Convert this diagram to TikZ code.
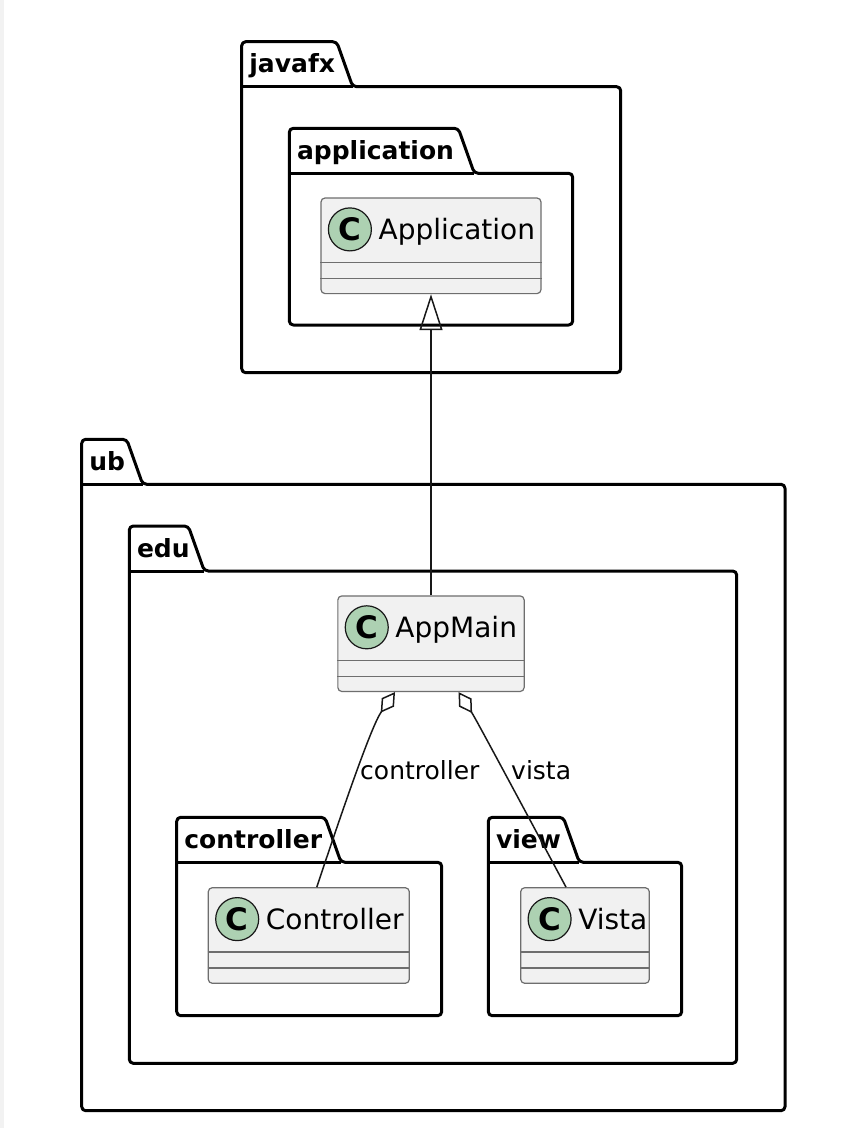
\documentclass[tikz,border=0pt]{standalone}
\usepackage{fontspec}
\setmainfont{DejaVu Sans}
\usepackage{tikz}
\usetikzlibrary{arrows.meta,positioning}
\definecolor{clsfill}{HTML}{F1F1F1}
\definecolor{clsline}{HTML}{6E6E6E}
\definecolor{spotfill}{HTML}{ADD1B2}
\definecolor{ink}{HTML}{181818}
\definecolor{strip}{HTML}{F2F2F2}
\tikzstyle{pkgbox}=[draw=black, line width=3pt, fill=white,
    rounded corners=4pt, line join=round]
\tikzstyle{pkgtitle}=[inner sep=0pt, anchor=base west,
    font=\fontsize{25}{30}\selectfont\bfseries]
\tikzstyle{cls}=[rectangle, draw=clsline, line width=1.2pt, fill=clsfill,
    rounded corners=4pt, minimum height=95.6pt, inner sep=0pt]
\tikzstyle{spot}=[circle, draw=ink, line width=1.2pt, fill=spotfill,
    minimum size=43pt, inner sep=0pt, font=\fontsize{31}{34}\selectfont\bfseries]
\tikzstyle{clsname}=[inner sep=0pt, anchor=base west,
    font=\fontsize{28}{32}\selectfont]
\tikzstyle{sep}=[draw=clsline, line width=1.2pt]
\tikzstyle{lbl}=[inner sep=0pt, anchor=base west,
    font=\fontsize{25}{30}\selectfont]

% package: name, left, tab top, tab right, right, bottom, title
\newcommand{\umlpkg}[7]{
  \pgfmathsetmacro{\pkgbody}{#3+45}
  \pgfmathsetmacro{\pkgslant}{#4+16}
  \draw[pkgbox] (#2,#6) -- (#2,#3) -- (#4,#3) -- (\pkgslant,\pkgbody)
    -- (#5,\pkgbody) -- (#5,#6) -- cycle;
  \draw[line width=3pt] (#2,\pkgbody) -- (\pkgslant,\pkgbody);
  \node[pkgtitle] (#1) at ({#2+7.5},{#3+31}) {#7};
}
% class: name, x, y, width, text
\newcommand{\umlclass}[5]{
  \node[cls, minimum width=#4pt] (#1) at (#2,#3) {};
  \node[spot] (#1-spot) at ([xshift=29.5pt,yshift=-32pt]#1.north west) {C};
  \node[clsname] (#1-name) at ([xshift=58pt,yshift=-42.5pt]#1.north west) {#5};
  \draw[sep] ([yshift=32pt]#1.south west) -- ([yshift=32pt]#1.south east);
  \draw[sep] ([yshift=16pt]#1.south west) -- ([yshift=16pt]#1.south east);
}

\begin{document}
\begin{tikzpicture}
  [x=1pt, y=-1pt,
  extends/.style={draw=ink, line width=1.5pt,
    -{Triangle[open, length=36pt, width=23pt]}},
  aggr/.style={draw=ink, line width=1.5pt,
    {Diamond[open, length=25pt, width=15pt]}-}]

  \useasboundingbox (0,0) rectangle (846,1128);
  \fill[strip] (0,0) rectangle (3.5,1128);

  \umlpkg{pkg-ub}{81.7}{439.3}{126.7}{785}{1110.7}{ub}
  \umlpkg{pkg-edu}{129.3}{526}{188.3}{736.7}{1063.3}{edu}
  \umlpkg{pkg-controller}{176.7}{817.3}{325}{441.7}{1015.7}{controller}
  \umlpkg{pkg-view}{488.3}{817.3}{563.3}{681.7}{1015.7}{view}
  \umlpkg{pkg-javafx}{241.7}{41.7}{336.7}{620.7}{372.7}{javafx}
  \umlpkg{pkg-application}{289.3}{128.3}{458.3}{572.7}{325}{application}

  \umlclass{app}{431}{245.8}{220}{Application}
  \umlclass{appmain}{431}{643.7}{186.3}{AppMain}
  \umlclass{ctrl}{308.8}{935.5}{201}{Controller}
  \umlclass{vista}{585}{935.5}{128.6}{Vista}

  \draw[extends] (appmain.north) -- (app.south);
  \draw[aggr] ([xshift=-36pt]appmain.south) .. controls (377,718) and (365.7,740)
    .. ([xshift=8pt]ctrl.north);
  \draw[aggr] ([xshift=27.5pt]appmain.south) .. controls (474,716) and (481.8,730)
    .. ([xshift=-19pt]vista.north);

  \node[lbl] (lbl-ctrl) at (360,779) {controller};
  \node[lbl] (lbl-vista) at (511,779) {vista};

\end{tikzpicture}
\end{document}
